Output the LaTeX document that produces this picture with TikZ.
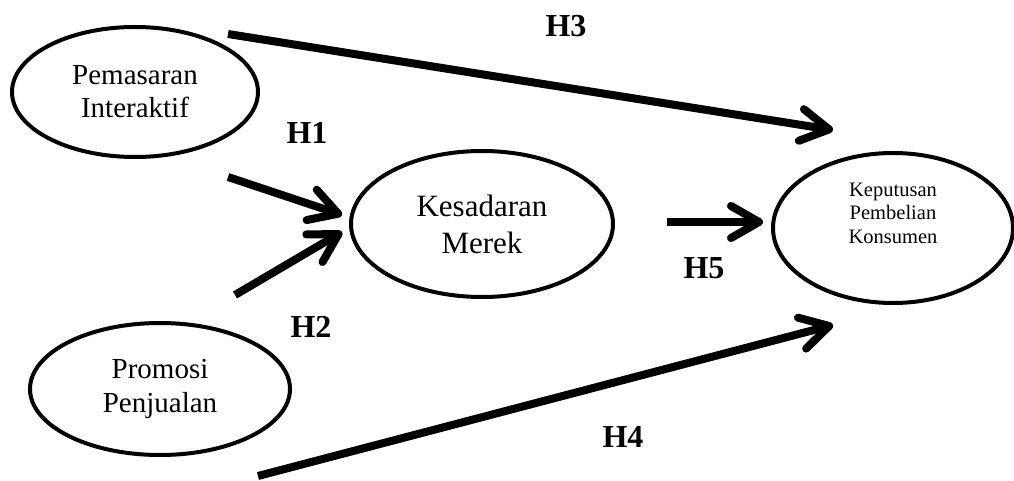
\documentclass[tikz,border=0pt]{standalone}
\usepackage{fontspec}
\setmainfont{Liberation Serif}
\usetikzlibrary{shapes.geometric,arrows.meta}
\begin{document}
\begin{tikzpicture}[x=1pt,y=-1pt,
  construct/.style={ellipse,draw,line width=4pt,inner sep=0pt,align=center},
  hyp/.style={font=\fontsize{32}{36}\selectfont\bfseries},
  path arrow/.style={line width=8pt,-{Straight Barb[length=28pt,width=32pt,round]}}]
\useasboundingbox (0,0) rectangle (1014,481);
\node[construct,minimum width=246pt,minimum height=130pt,font=\fontsize{29}{33}\selectfont] (pi) at (135,92) {Pemasaran\\Interaktif};
\node[construct,minimum width=260pt,minimum height=132pt,font=\fontsize{29}{34}\selectfont] (pp) at (160,389) {Promosi\\Penjualan};
\node[construct,minimum width=262pt,minimum height=146pt,font=\fontsize{31}{37}\selectfont] (km) at (482,224) {Kesadaran\\Merek};
\node[construct,minimum width=240pt,minimum height=150pt,font=\fontsize{20.5}{23.5}\selectfont] (kp) at (893,228) {Keputusan\\Pembelian\\Konsumen\\[6pt]};
\coordinate (h3s) at (228,34);  \coordinate (h3e) at (833,130);
\coordinate (h1s) at (228,177); \coordinate (h1e) at (342,215);
\coordinate (h2s) at (235,295); \coordinate (h2e) at (342,232);
\coordinate (h5s) at (667,222); \coordinate (h5e) at (763,222);
\coordinate (h4s) at (258,476); \coordinate (h4e) at (833,325);
\draw[path arrow] (h3s) -- (h3e);
\draw[path arrow] (h1s) -- (h1e);
\draw[path arrow] (h2s) -- (h2e);
\draw[path arrow] (h5s) -- (h5e);
\draw[path arrow] (h4s) -- (h4e);
\node[hyp] (l3) at (566,26) {H3};
\node[hyp] (l1) at (307,133) {H1};
\node[hyp] (l2) at (311,327) {H2};
\node[hyp] (l5) at (704,268) {H5};
\node[hyp] (l4) at (623,437) {H4};
\end{tikzpicture}
\end{document}
